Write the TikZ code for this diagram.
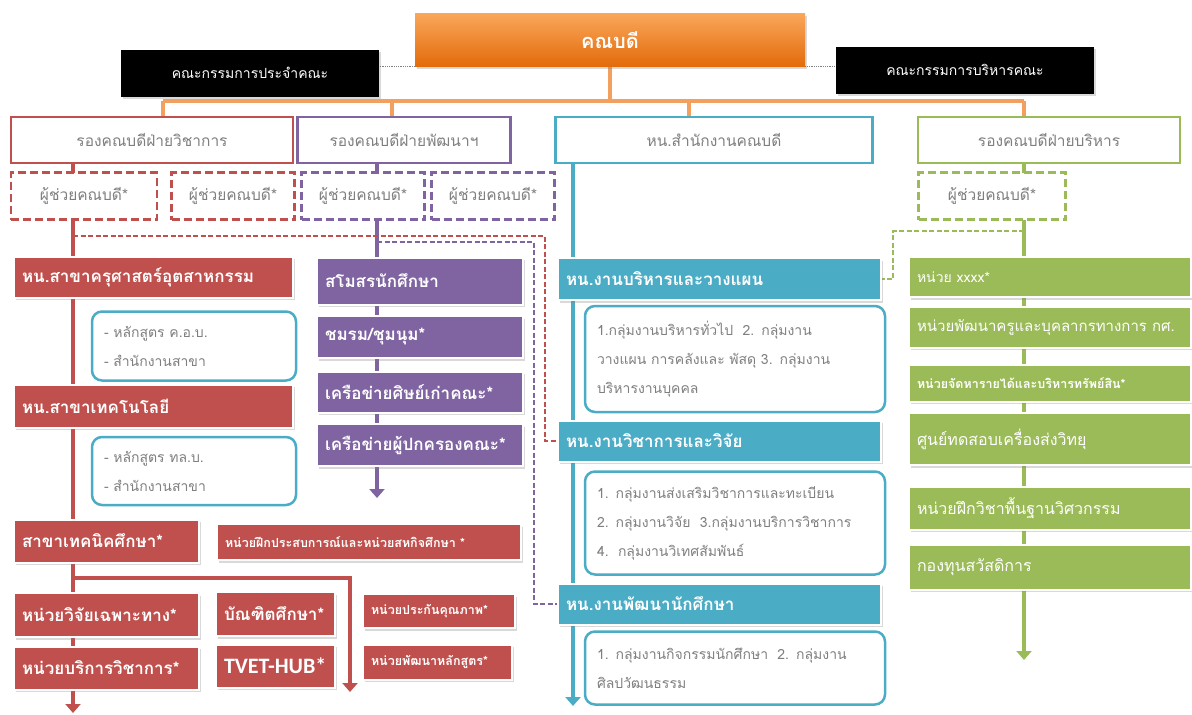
\documentclass[tikz,border=0pt]{standalone}
\usepackage{fontspec}
\setmainfont[Script=Thai]{Loma}
\newfontfamily\latinfont{Carlito}
\usepackage{tikz}
\usetikzlibrary{arrows.meta,shadows,backgrounds}

\definecolor{myred}{HTML}{C0504D}
\definecolor{mypurple}{HTML}{8064A2}
\definecolor{myblue}{HTML}{4BACC6}
\definecolor{mygreen}{HTML}{9BBB59}
\definecolor{orangetop}{HTML}{FAA65A}
\definecolor{orangebot}{HTML}{E26B0A}
\definecolor{busorange}{HTML}{F3A05E}
\definecolor{textgray}{HTML}{7F7F7F}

\tikzset{
  boxshadow/.style={drop shadow={shadow xshift=1.5pt, shadow yshift=-2.5pt, opacity=0.3}},
  deanbox/.style={top color=orangetop, bottom color=orangebot, text=white, boxshadow,
    font=\bfseries\fontsize{20}{24}\selectfont},
  headbox/.style={fill=black, text=white, minimum height=47pt, boxshadow,
    font=\fontsize{14}{17}\selectfont},
  vicebox/.style={draw=#1, line width=2.5pt, fill=white, text=textgray, minimum height=46pt,
    font=\fontsize{15.5}{18}\selectfont},
  helpbox/.style={draw=#1, line width=2.5pt, dash pattern=on 8pt off 4pt, fill=white,
    text=textgray, minimum height=47pt, font=\fontsize{15.5}{18}\selectfont},
  unitbox/.style={fill=#1, draw=white, line width=2pt, text=white, anchor=west, align=left,
    inner xsep=8pt, boxshadow, font=\bfseries\fontsize{17}{20}\selectfont},
  smalltxt/.style={font=\bfseries\fontsize{12.5}{15}\selectfont},
  greentxt/.style={font=\fontsize{16}{19}\selectfont},
  listbox/.style={draw=myblue, line width=2.5pt, rounded corners=10pt, fill=white,
    text=textgray, align=left, inner xsep=12pt, font=\fontsize{14}{29}\selectfont},
  busline/.style={busorange, line width=4pt},
  colline/.style={#1, line width=4pt},
  coldash/.style={#1, line width=2pt, dash pattern=on 5pt off 2.5pt},
  tip/.style={-{Triangle[width=15pt,length=9pt]}}
}

\begin{document}
\begin{tikzpicture}[x=1pt,y=-1pt]
\useasboundingbox (0,0) rectangle (1192,715);

\node[deanbox, minimum width=390pt, minimum height=53pt] (dean) at (610,40) {คณบดี};
\node[headbox, minimum width=258pt] (board) at (250,73) {คณะกรรมการประจำคณะ};
\node[headbox, minimum width=258pt] (exec) at (965,70) {คณะกรรมการบริหารคณะ};

\node[vicebox=myred, minimum width=282pt] (vacad) at (152,140) {รองคณบดีฝ่ายวิชาการ};
\node[vicebox=mypurple, minimum width=213pt] (vdev) at (404,140) {รองคณบดีฝ่ายพัฒนาฯ};
\node[vicebox=myblue, minimum width=317pt] (office) at (714,140) {หน.สำนักงานคณบดี};
\node[vicebox=mygreen, minimum width=262pt] (vadm) at (1049,140) {รองคณบดีฝ่ายบริหาร};

\node[helpbox=myred, minimum width=146pt] (asst1) at (84,196) {ผู้ช่วยคณบดี*};
\node[helpbox=myred, minimum width=123pt] (asst2) at (233,196) {ผู้ช่วยคณบดี*};
\node[helpbox=mypurple, minimum width=123pt] (asst3) at (363,196) {ผู้ช่วยคณบดี*};
\node[helpbox=mypurple, minimum width=123pt] (asst4) at (493,196) {ผู้ช่วยคณบดี*};
\node[helpbox=mygreen, minimum width=147pt] (asst5) at (992,196) {ผู้ช่วยคณบดี*};

\node[unitbox=myred, text width=263pt, minimum height=41pt] (khru) at (13,277) {หน.สาขาครุศาสตร์อุตสาหกรรม};
\node[listbox, text width=180pt, minimum height=69pt] (khrulist) at (194,346) {- หลักสูตร ค.อ.บ.\\- สำนักงานสาขา};
\node[unitbox=myred, text width=263pt, minimum height=43pt] (tech) at (13,406) {หน.สาขาเทคโนโลยี};
\node[listbox, text width=180pt, minimum height=68pt] (techlist) at (194,471) {- หลักสูตร ทล.บ.\\- สำนักงานสาขา};
\node[unitbox=myred, text width=169pt, minimum height=43pt] (techedu) at (13,541) {สาขาเทคนิคศึกษา*};
\node[unitbox=myred, smalltxt, text width=288pt, minimum height=36pt] (coop) at (216,542) {หน่วยฝึกประสบการณ์และหน่วยสหกิจศึกษา *};
\node[unitbox=myred, text width=169pt, minimum height=44pt] (rsch) at (13,615) {หน่วยวิจัยเฉพาะทาง*};
\node[unitbox=myred, text width=169pt, minimum height=43pt] (serv) at (13,668) {หน่วยบริการวิชาการ*};
\node[unitbox=myred, text width=103pt, minimum height=44pt] (grad) at (215,614) {บัณฑิตศึกษา*};
\node[unitbox=myred, text width=103pt, minimum height=43pt, font=\latinfont\bfseries\fontsize{22}{24}\selectfont] (tvet) at (215,666) {TVET-HUB*};
\node[unitbox=myred, smalltxt, text width=136pt, minimum height=34pt] (qa) at (362,611) {หน่วยประกันคุณภาพ*};
\node[unitbox=myred, smalltxt, text width=133pt, minimum height=35pt] (curr) at (362,662) {หน่วยพัฒนาหลักสูตร*};

\node[unitbox=mypurple, text width=190pt, minimum height=47pt] (smo) at (316,281) {สโมสรนักศึกษา};
\node[unitbox=mypurple, text width=190pt, minimum height=42pt] (club) at (316,337) {ชมรม/ชุมนุม*};
\node[unitbox=mypurple, text width=190pt, minimum height=41pt] (alum) at (316,392) {เครือข่ายศิษย์เก่าคณะ*};
\node[unitbox=mypurple, text width=190pt, minimum height=42pt] (parent) at (316,445) {เครือข่ายผู้ปกครองคณะ*};

\node[unitbox=myblue, text width=307pt, minimum height=42pt] (plan) at (557,279) {หน.งานบริหารและวางแผน};
\node[listbox, text width=276pt, minimum height=106pt] (planlist) at (735,359) {1.กลุ่มงานบริหารทั่วไป\ \ 2. กลุ่มงาน\\วางแผน การคลังและ พัสดุ 3. กลุ่มงาน\\บริหารงานบุคคล};
\node[unitbox=myblue, text width=307pt, minimum height=41pt] (acad) at (557,441) {หน.งานวิชาการและวิจัย};
\node[listbox, text width=276pt, minimum height=103pt] (acadlist) at (735,523) {1. กลุ่มงานส่งเสริมวิชาการและทะเบียน\\2. กลุ่มงานวิจัย\ \ 3.กลุ่มงานบริการวิชาการ\\4.\ \ กลุ่มงานวิเทศสัมพันธ์};
\node[unitbox=myblue, text width=307pt, minimum height=41pt] (stud) at (557,604) {หน.งานพัฒนานักศึกษา};
\node[listbox, text width=276pt, minimum height=73pt] (studlist) at (735,668) {1. กลุ่มงานกิจกรรมนักศึกษา\ \ 2. กลุ่มงาน\\ศิลปวัฒนธรรม};

\node[unitbox=mygreen, greentxt, text width=266pt, minimum height=40pt, font=\fontsize{14}{17}\selectfont] (unitx) at (908,277) {หน่วย xxxx*};
\node[unitbox=mygreen, greentxt, text width=266pt, minimum height=41pt, font=\fontsize{15}{18}\selectfont] (tdev) at (908,327) {หน่วยพัฒนาครูและบุคลากรทางการ กศ.};
\node[unitbox=mygreen, smalltxt, text width=266pt, minimum height=37pt] (income) at (908,383) {หน่วยจัดหารายได้และบริหารทรัพย์สิน*};
\node[unitbox=mygreen, greentxt, text width=266pt, minimum height=52pt] (radio) at (908,439) {ศูนย์ทดสอบเครื่องส่งวิทยุ};
\node[unitbox=mygreen, greentxt, text width=266pt, minimum height=43pt] (engtr) at (908,508) {หน่วยฝึกวิชาพื้นฐานวิศวกรรม};
\node[unitbox=mygreen, greentxt, text width=266pt, minimum height=45pt] (welf) at (908,567) {กองทุนสวัสดิการ};

\begin{scope}[on background layer]
\coordinate (b1) at (163,101);
\coordinate (b2) at (392,101);
\coordinate (b3) at (689,101);
\coordinate (b4) at (1024,101);
\coordinate (redend) at (73,713);
\coordinate (purend) at (377,498);
\coordinate (blueend) at (573,706);
\coordinate (greenend) at (1024,660);
\coordinate (redsplit) at (73,578);
\coordinate (redend2) at (350,692);
\coordinate (reddash) at (73,236);
\coordinate (redturn) at (545,236);
\coordinate (purdash) at (377,242);
\coordinate (purturn) at (534,242);
\coordinate (greendash) at (1024,231);
\coordinate (greenturn) at (893,231);

\draw[gray, densely dotted, line width=0.8pt] (dean.south west) -- (dean.south west -| board.east);
\draw[gray, densely dotted, line width=0.8pt] (dean.south east) -- (dean.south east -| exec.west);

\draw[busline] (dean.south) -- (dean.south |- b1);
\draw[busline] (b1) -- (b4);
\draw[busline] (b1) -- (b1 |- vacad.north);
\draw[busline] (b2) -- (b2 |- vdev.north);
\draw[busline] (b3) -- (b3 |- office.north);
\draw[busline] (b4) -- (b4 |- vadm.north);

\draw[colline=myred, tip] (vacad.south -| redend) -- (redend);
\draw[colline=myred, tip] (redsplit) -| (redend2);
\draw[colline=mypurple, tip] (vdev.south -| purend) -- (purend);
\draw[colline=myblue, tip] (office.south -| blueend) -- (blueend);
\draw[colline=mygreen, tip] (vadm.south -| greenend) -- (greenend);

\draw[coldash=myred] (reddash) -- (redturn) |- (acad.west);
\draw[coldash=mypurple] (purdash) -- (purturn) |- (stud.west);
\draw[coldash=mygreen] (greendash) -- (greenturn) |- (plan.east);
\end{scope}
\end{tikzpicture}
\end{document}
